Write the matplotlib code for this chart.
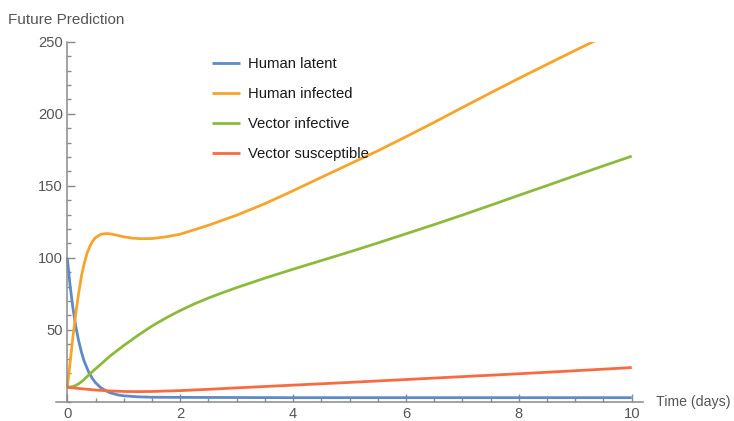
import matplotlib
matplotlib.use("Agg")
import matplotlib.pyplot as plt
from matplotlib.ticker import MultipleLocator

plt.rcParams["font.family"] = ["Liberation Sans", "DejaVu Sans"]

# Model output (time in days)
t_latent = [0, 0.05, 0.1, 0.15, 0.2, 0.25, 0.3, 0.38, 0.45, 0.5, 0.6, 0.75,
            0.9, 1.0, 1.25, 1.5, 2, 3, 4, 6, 8, 10]
human_latent = [100, 80.5, 65, 52.5, 42.5, 34.5, 28, 20.5, 15.8, 13.2, 9.5, 6.3,
                4.7, 4.1, 3.4, 3.1, 3.0, 2.9, 2.8, 2.8, 2.8, 2.8]

t_infected = [0, 0.03, 0.06, 0.1, 0.15, 0.2, 0.25, 0.3, 0.35, 0.4, 0.45, 0.5,
              0.6, 0.7, 0.8, 0.9, 1.0, 1.15, 1.3, 1.5, 1.75, 2.0, 2.5, 3.0,
              3.5, 4.0, 4.5, 5.0, 5.5, 6.0, 6.5, 7.0, 7.5, 8.0, 8.5, 9.0, 9.5]
human_infected = [10, 20, 31, 45, 61, 75, 87, 96, 103, 108, 111.5, 114,
                  116.3, 116.8, 116.3, 115.4, 114.5, 113.6, 113.2, 113.3, 114.5, 116.3, 122.5, 129.5,
                  137.5, 146.5, 155.8, 165, 174.2, 184, 194, 204.3, 214.5, 224.5, 234.3, 244, 253.5]

t_vector = [0, 0.1, 0.15, 0.2, 0.25, 0.3, 0.4, 0.5, 0.6, 0.75, 1.0, 1.25, 1.5, 1.75, 2.0,
            2.25, 2.5, 2.75, 3.0, 3.5, 4.0, 4.5, 5.0, 5.5, 6.0, 6.5, 7.0, 7.5,
            8.0, 8.5, 9.0, 9.5, 10.0]
vector_infective = [10, 10.5, 11.3, 12.4, 13.8, 15.5, 19.3, 22.8, 26.2, 31.5, 39, 46, 52.5, 58.2, 63.3,
                    67.9, 72, 75.7, 79.2, 85.8, 92, 98, 104, 110.2, 116.6, 123, 129.6, 136.4,
                    143.3, 150.1, 157, 163.8, 170.5]

t_susc = [0, 0.25, 0.5, 0.75, 1.0, 1.25, 1.5, 2, 2.5, 3, 4, 5, 6, 7, 8, 9, 10]
vector_susceptible = [10, 9, 8.1, 7.5, 7.1, 7.0, 7.1, 7.7, 8.6, 9.6, 11.5, 13.4,
                      15.4, 17.4, 19.4, 21.5, 23.7]

labels = ["Human latent", "Human infected", "Vector infective", "Vector susceptible"]
colors = ["#5E8AC7", "#F7A42C", "#8DB93D", "#FA6A40"]

x_ticks = [0, 2, 4, 6, 8, 10]
y_ticks = [50, 100, 150, 200, 250]

W, H = 734, 421
fig = plt.figure(figsize=(W / 100, H / 100), dpi=100)
ax = fig.add_axes([56 / W, 1 - 401.7 / H, (643 - 56) / W, (401.7 - 41.7) / H])

series = [(t_latent, human_latent), (t_infected, human_infected),
          (t_vector, vector_infective), (t_susc, vector_susceptible)]
for (t, v), lab, c in zip(series, labels, colors):
    ax.plot(t, v, color=c, lw=2.0, label=lab, solid_capstyle="butt",
            solid_joinstyle="round")

ax.set_xlim(-0.2, 10.2)
ax.set_ylim(0, 250)

axis_col = "#8a8a8a"
for s in ["top", "right"]:
    ax.spines[s].set_visible(False)
ax.spines["left"].set_position(("data", 0))
ax.spines["left"].set_bounds(0, 250)
for s in ["left", "bottom"]:
    ax.spines[s].set_color(axis_col)
    ax.spines[s].set_linewidth(1.1)

ax.set_xticks(x_ticks)
ax.set_yticks(y_ticks)
ax.xaxis.set_minor_locator(MultipleLocator(0.5))
ax.yaxis.set_minor_locator(MultipleLocator(10))
ax.tick_params(which="both", direction="in", color=axis_col, width=1.0,
               labelsize=10.6, labelcolor="#555555")
ax.tick_params(which="major", length=5.5)
ax.tick_params(which="minor", length=3.2)
ax.tick_params(axis="x", pad=4)
ax.tick_params(axis="y", pad=3)

fig.text(8 / W, 1 - 20.5 / H, "Future Prediction", fontsize=11, color="#555555",
         ha="left", va="center")
fig.text(656 / W, 1 - 401.7 / H, "Time (days)", fontsize=10.2, color="#555555",
         ha="left", va="center")

ax.legend(loc="upper left", bbox_to_anchor=(212 / W, 1 - 57 / H),
          bbox_transform=fig.transFigure, frameon=False, fontsize=10.7,
          handlelength=1.9, handletextpad=0.55, labelspacing=1.07,
          borderpad=0, borderaxespad=0, labelcolor="#1a1a1a")

fig.savefig("out.png", dpi=100)
